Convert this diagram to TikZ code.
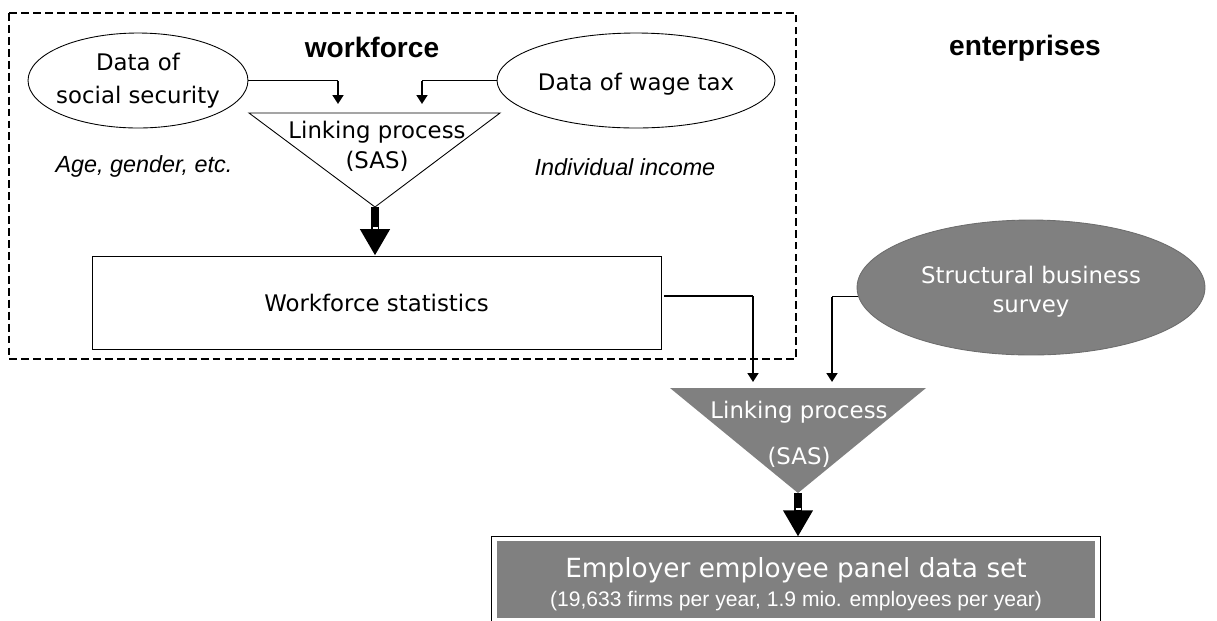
\documentclass[tikz,border=0pt]{standalone}
\usepackage{fontspec}
\setmainfont{DejaVu Sans}
\newfontfamily\arialfont{Liberation Sans}
\usetikzlibrary{shapes,arrows.meta,calc}
\definecolor{sasgray}{RGB}{128,128,128}
\tikzset{
  source/.style={draw, ellipse, line width=0.5pt, inner sep=0pt},
  srctext/.style={align=center, font=\fontsize{13}{18.7}\selectfont},
  tritext/.style={align=center, inner sep=0pt},
  heading/.style={font=\arialfont\bfseries\fontsize{16}{19}\selectfont, anchor=base},
  remark/.style={font=\arialfont\itshape\fontsize{13.3}{16}\selectfont, anchor=base},
  feed/.style={line width=0.6pt},
  drop/.style={line width=1.4pt, -{Triangle[length=5pt,width=6pt]}},
  bigarrow/.style={line width=5pt, -{Triangle[length=15pt,width=16pt]}},
  workbox/.style={draw, dash pattern=on 4.5pt off 2.3pt, line width=1.1pt}
}

\begin{document}
\begin{tikzpicture}[x=0.02cm, y=-0.02cm]
  \useasboundingbox (0,0) rectangle (1217,620);

  % workforce side
  \draw[workbox] (9,13) rectangle (796,359);
  \node[heading] (wfhead) at (372,57) {workforce};
  \node[heading] (enthead) at (1025,55) {enterprises};

  \node[source, minimum width=4.4cm, minimum height=1.9cm,
    label={[srctext]center:Data of\\social security}] (ss) at (138,80.5) {};
  \node[source, minimum width=5.56cm, minimum height=1.9cm,
    label={[srctext, yshift=-2.3pt]center:Data of wage tax}] (wt) at (636,80.5) {};
  \node[remark] (agenote) at (144,172) {Age, gender, etc.};
  \node[remark] (incnote) at (625,175) {Individual income};

  \coordinate (lp1 apex) at (375,207);
  \draw[line width=0.5pt] (249,113) -- (500,113) -- (lp1 apex) -- cycle;
  \node[tritext, font=\fontsize{13}{17}\selectfont] (lp1) at (377,146) {Linking process\\(SAS)};

  \coordinate (lp1 in1) at (338,104);
  \coordinate (lp1 in2) at (422,104);
  \draw[feed] (ss.east) -- (ss.east -| lp1 in1);
  \draw[drop] (ss.east -| lp1 in1) -- (lp1 in1);
  \draw[feed] (wt.west) -- (wt.west -| lp1 in2);
  \draw[drop] (wt.west -| lp1 in2) -- (lp1 in2);

  \node[draw, line width=0.5pt, minimum width=11.38cm, minimum height=1.86cm,
    font=\fontsize{13}{16}\selectfont] (ws) at (376.5,302.5) {Workforce statistics};
  \coordinate (ws top) at (lp1 apex |- ws.north);
  \draw[bigarrow] (lp1 apex) -- (ws top);
  \fill[white] ($(ws top)+(-2.5,-29)$) rectangle ($(ws top)+(2.5,-27)$);

  % enterprises side
  \node[source, fill=sasgray, draw=sasgray!85!black, minimum width=6.96cm, minimum height=2.7cm,
    label={[srctext, text=white, yshift=-2.3pt, font=\fontsize{13}{16.4}\selectfont]center:Structural business\\survey}] (sbs) at (1031,287.5) {};

  \coordinate (lp2 apex) at (798,493);
  \fill[sasgray] (670,388) -- (926,388) -- (lp2 apex) -- cycle;
  \node[tritext, text=white, font=\fontsize{13}{26}\selectfont] (lp2) at (799,434) {Linking process\\(SAS)};

  \coordinate (ws out) at ($(ws.east)+(3,-6.5)$);
  \coordinate (lp2 in1) at (753,382);
  \coordinate (lp2 in2) at (832,382);
  \draw[feed] (ws out) -- (ws out -| lp2 in1);
  \draw[drop] (ws out -| lp2 in1) -- (lp2 in1);
  \draw[feed] (sbs.183) -- (sbs.183 -| lp2 in2);
  \draw[drop] (sbs.183 -| lp2 in2) -- (lp2 in2);

  % panel data set
  \node[fill=sasgray, minimum width=11.96cm, minimum height=1.54cm, inner sep=0pt,
    label={[text=white, align=center, yshift=-2.6pt, font=\fontsize{15}{16.4}\selectfont]center:Employer employee panel data set\\{\arialfont\fontsize{12}{14}\selectfont (19,633 firms per year, 1.9 mio. employees per year)}}]
    (ep) at (796,579.5) {};
  \draw[line width=0.6pt] ($(ep.north west)+(-5,-4)$) rectangle ($(ep.south east)+(5,10)$);
  \coordinate (ep top) at (lp2 apex |- {$(ep.north)+(0,-4)$});
  \draw[bigarrow] (lp2 apex) -- (ep top);
  \fill[white] ($(ep top)+(-2.5,-29)$) rectangle ($(ep top)+(2.5,-27)$);
\end{tikzpicture}
\end{document}
